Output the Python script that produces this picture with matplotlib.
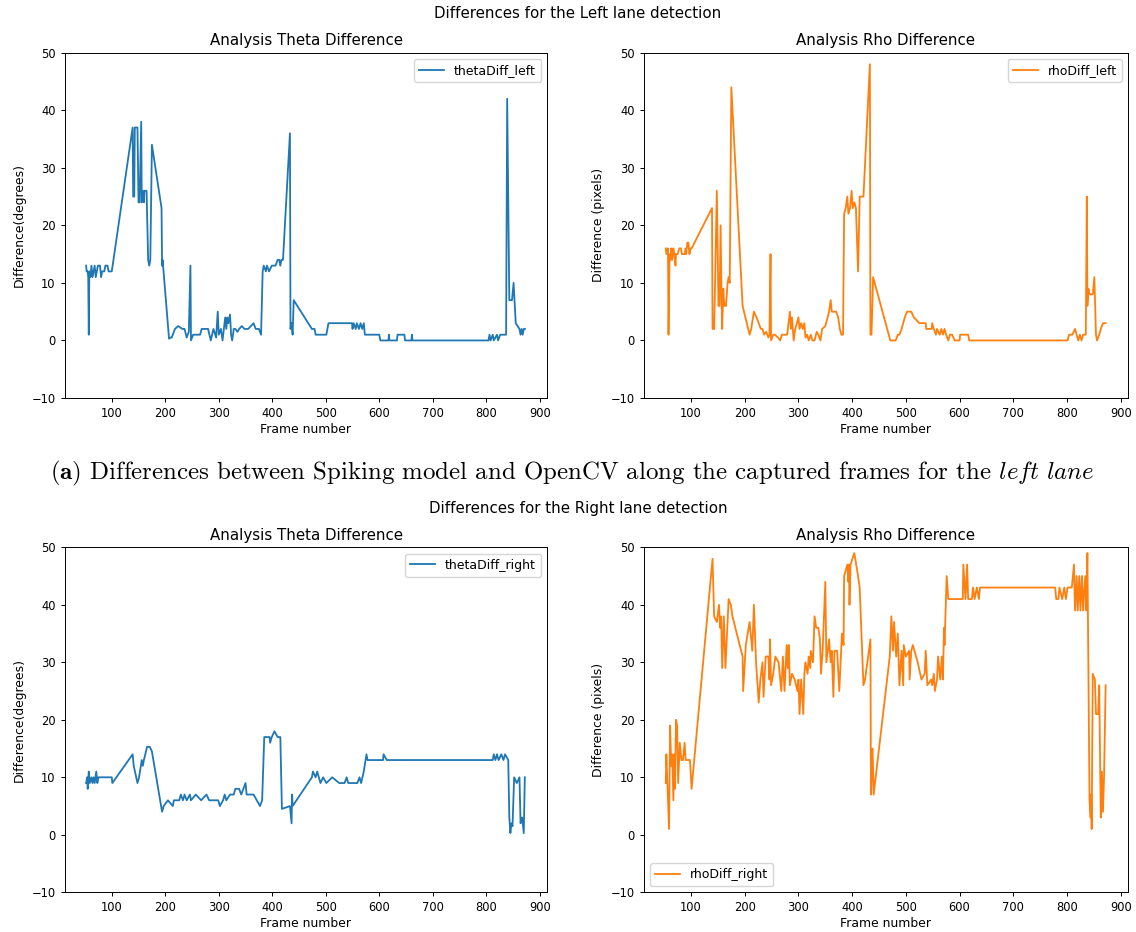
import numpy as np
import matplotlib
matplotlib.use("Agg")
import matplotlib.pyplot as plt

# (frame, difference) pairs
theta_left = [(52, 13), (53, 12), (55, 12), (56, 11), (57, 1), (58, 12), (60, 11), (62, 13), (64, 11), (66, 12),
              (68, 13), (70, 11), (72, 12), (74, 13), (78, 13), (80, 11), (82, 12), (86, 12), (88, 13), (92, 13),
              (94, 12), (98, 12), (100, 12), (139, 37), (140, 25), (142, 25), (143, 37), (148, 37), (150, 24), (152, 24),
              (155, 38), (156, 24), (158, 26), (160, 24), (161, 26), (165, 26), (168, 14), (170, 13), (172, 14), (175, 34),
              (193, 23), (194, 13), (195, 14), (207, 0.3), (210, 0.5), (212, 0.5), (218, 2), (224, 2.5), (232, 2), (236, 2),
              (240, 0.5), (244, 1.5), (247, 13), (248, 0), (252, 1), (256, 1), (265, 1), (268, 2), (275, 2), (280, 2),
              (285, 0), (290, 2), (295, 0.5), (298, 5), (300, 1), (304, 2), (307, 0), (312, 4), (314, 2), (316, 4),
              (318, 3), (321, 4.5), (323, 1), (325, 0), (328, 2), (331, 2), (335, 1.5), (338, 2), (343, 2.5), (348, 2),
              (355, 2), (365, 3), (369, 2), (375, 2), (379, 1), (382, 12), (384, 13), (388, 12), (390, 13), (394, 12),
              (399, 13), (406, 13), (410, 14), (413, 14), (415, 13), (417, 14), (420, 14), (433, 36), (434, 2), (436, 3),
              (438, 1), (440, 7), (474, 2), (479, 2), (481, 1), (501, 1), (503, 2), (505, 3), (508, 3), (549, 3),
              (550, 2), (552, 3), (556, 2), (558, 3), (562, 2), (565, 3), (568, 2), (571, 3), (573, 1), (600, 1),
              (602, 0), (617, 0), (618, 1), (619, 0), (633, 0), (634, 1), (647, 1), (648, 0), (660, 0), (661, 1),
              (662, 0), (804, 0), (806, 1), (808, 0), (812, 1), (814, 0), (820, 1), (822, 0), (826, 1), (837, 1),
              (839, 42), (843, 7), (848, 7), (851, 10), (855, 3), (862, 2), (864, 1), (866, 2), (868, 1), (870, 2),
              (872, 2)]

rho_left = [(53, 16), (54, 15), (57, 16), (58, 1), (60, 15), (62, 14), (63, 16), (65, 14), (67, 16), (69, 15),
            (71, 13), (72, 15), (75, 15), (78, 16), (81, 16), (83, 15), (88, 15), (90, 16), (91, 15), (93, 17),
            (95, 17), (97, 15), (99, 16), (101, 16), (139, 23), (140, 2), (143, 2), (148, 26), (151, 6), (153, 6),
            (155, 20), (157, 6), (158, 2), (160, 9), (162, 6), (165, 6), (168, 10), (170, 11), (172, 10), (175, 44),
            (196, 6), (209, 1), (212, 2), (217, 5), (222, 4), (226, 3), (230, 2), (233, 2), (236, 1), (240, 1.5),
            (244, 0.5), (246, 1), (248, 15), (249, 0), (253, 1), (256, 1), (262, 0.5), (266, 0), (269, 1), (279, 1),
            (284, 5), (286, 2), (288, 4), (291, 0), (294, 2), (297, 3), (300, 4), (302, 2), (305, 3), (308, 2),
            (311, 3), (313, 0.5), (316, 1), (319, 0), (323, 1), (326, 0), (330, 0), (334, 1.5), (337, 1), (341, 0),
            (344, 2), (350, 2.5), (357, 5), (360, 7), (362, 5), (364, 5), (370, 5), (374, 4), (377, 2), (380, 1),
            (383, 1), (385, 22), (388, 23), (391, 25), (393, 22), (396, 23), (399, 26), (401, 23), (404, 24), (407, 23),
            (411, 12), (414, 25), (421, 25), (433, 48), (434, 1), (436, 1), (439, 11), (471, 0), (481, 0), (485, 1),
            (488, 1), (492, 2), (495, 3), (498, 4), (502, 5), (510, 5), (515, 4), (525, 3), (537, 3), (538, 2),
            (548, 2), (549, 3), (552, 2), (556, 1), (558, 2), (563, 1), (566, 2), (569, 1), (572, 2), (575, 1),
            (579, 0), (582, 1), (586, 1), (591, 0), (600, 0), (601, 1), (616, 1), (618, 0), (801, 0), (804, 1),
            (810, 1), (815, 2), (818, 1), (821, 0), (824, 1), (827, 0), (830, 1), (835, 1), (837, 25), (838, 6),
            (840, 9), (842, 8), (848, 8), (851, 11), (854, 1), (856, 0), (860, 1), (863, 2), (867, 3), (872, 3)]

theta_right = [(52, 9), (54, 10), (55, 8), (57, 11), (59, 9), (62, 10), (64, 9), (66, 10), (68, 9), (71, 11),
               (73, 9), (75, 10), (77, 10), (100, 10), (101, 9), (139, 14), (141, 12), (148, 9), (151, 10), (156, 13),
               (158, 12), (160, 13), (166, 15.3), (171, 15.3), (175, 14.5), (194, 4), (197, 5), (205, 6), (214, 5), (216, 6),
               (226, 6), (229, 7), (233, 6), (236, 7), (240, 6), (246, 7), (248, 6), (257, 7), (267, 6), (277, 7),
               (282, 6), (299, 6), (302, 5), (308, 6), (311, 7), (314, 6), (321, 7), (328, 7), (331, 8), (338, 8),
               (342, 7), (350, 9), (352, 7), (365, 7), (377, 5), (381, 6), (385, 17), (395, 17), (396, 16), (399, 17),
               (404, 18), (410, 17), (415, 17), (418, 4.5), (433, 5), (436, 2), (437, 7), (438, 5), (474, 10), (476, 11),
               (481, 10), (484, 11), (490, 9), (495, 10), (501, 9), (512, 10), (525, 9), (535, 9), (539, 10), (542, 9),
               (559, 9), (563, 10), (566, 9), (571, 11), (576, 14), (578, 13), (607, 13), (608, 14), (614, 13), (812, 13),
               (814, 14), (817, 13), (820, 14), (823, 13), (828, 14), (832, 13), (835, 14), (841, 13), (843, 3), (845, 0.3),
               (847, 2), (849, 1.5), (852, 10), (857, 9), (862, 10), (864, 2), (867, 3), (870, 0.3), (872, 10)]

rho_right = [(53, 9), (54, 14), (56, 9), (59, 1), (61, 19), (63, 12), (65, 14), (67, 6), (69, 14), (70, 8),
             (72, 20), (74, 19), (76, 9), (79, 16), (82, 13), (85, 13), (88, 16), (90, 13), (98, 13), (101, 8),
             (140, 48), (143, 38), (148, 37), (152, 40), (154, 36), (156, 38), (158, 29), (161, 38), (164, 29), (170, 41),
             (174, 40), (177, 38), (196, 31), (197, 25), (202, 33), (209, 37), (214, 32), (217, 40), (221, 30), (226, 23),
             (229, 27), (233, 30), (235, 24), (239, 31), (244, 31), (246, 27), (247, 34), (249, 26), (253, 28), (257, 31),
             (263, 30), (268, 25), (271, 31), (274, 25), (278, 33), (280, 29), (282, 33), (284, 26), (288, 28), (293, 27),
             (298, 25), (300, 27), (302, 21), (305, 27), (309, 21), (311, 28), (313, 30), (317, 28), (319, 31), (322, 29),
             (323, 32), (327, 30), (330, 38), (333, 36), (337, 36), (340, 34), (342, 28), (345, 32), (350, 44), (352, 30),
             (357, 34), (360, 30), (362, 32), (365, 24), (367, 32), (372, 32), (376, 25), (381, 35), (384, 33), (385, 45),
             (391, 47), (393, 44), (394, 47), (395, 40), (397, 47), (404, 49), (411, 45), (414, 43), (421, 26), (424, 27),
             (434, 34), (435, 7), (438, 15), (440, 7), (470, 31), (473, 38), (476, 32), (478, 37), (482, 31), (485, 35),
             (488, 26), (492, 32), (495, 26), (496, 33), (500, 31), (506, 32), (507, 27), (510, 32), (513, 33), (522, 30),
             (529, 27), (535, 28), (537, 32), (540, 26), (547, 27), (549, 26), (552, 28), (554, 25), (558, 27), (560, 31),
             (564, 27), (567, 31), (569, 27), (571, 36), (572, 33), (576, 45), (579, 41), (606, 41), (607, 47), (611, 41),
             (614, 47), (616, 41), (623, 41), (625, 43), (628, 41), (632, 43), (636, 41), (638, 43), (778, 43), (780, 41),
             (784, 41), (786, 43), (791, 41), (795, 43), (798, 41), (801, 43), (809, 43), (813, 47), (815, 39), (818, 45),
             (820, 39), (823, 45), (825, 39), (828, 45), (830, 39), (834, 45), (836, 39), (838, 49), (842, 6), (844, 3),
             (845, 7), (846, 1), (848, 28), (852, 27), (854, 21), (858, 21), (860, 26), (863, 3), (865, 11), (867, 4),
             (869, 10), (872, 26)]

plt.rcParams['font.size'] = 8.9
plt.rcParams['xtick.labelsize'] = 8.3
plt.rcParams['ytick.labelsize'] = 8.3
plt.rcParams['legend.fontsize'] = 9
plt.rcParams['axes.titlesize'] = 10.8
plt.rcParams['axes.linewidth'] = 0.7
plt.rcParams['xtick.major.width'] = 0.7
plt.rcParams['ytick.major.width'] = 0.7
plt.rcParams['xtick.major.size'] = 3
plt.rcParams['ytick.major.size'] = 3
plt.rcParams['mathtext.fontset'] = 'cm'

fig = plt.figure(figsize=(11.36, 9.32), dpi=100)
W, H = 1136, 932

def make_ax(left, top, right, bottom):
    return fig.add_axes([left / W, 1 - bottom / H, (right - left) / W, (bottom - top) / H])

panels = [
    (make_ax(64.7, 52.7, 547.3, 398), theta_left, 'thetaDiff_left', 'tab:blue',
     'Analysis Theta Difference', 'Difference(degrees)', 'upper right'),
    (make_ax(643.8, 52.7, 1128.2, 398), rho_left, 'rhoDiff_left', 'tab:orange',
     'Analysis Rho Difference', 'Difference (pixels)', 'upper right'),
    (make_ax(64.7, 547.3, 547.3, 892.3), theta_right, 'thetaDiff_right', 'tab:blue',
     'Analysis Theta Difference', 'Difference(degrees)', 'upper right'),
    (make_ax(643.8, 547.3, 1128.2, 892.3), rho_right, 'rhoDiff_right', 'tab:orange',
     'Analysis Rho Difference', 'Difference (pixels)', 'lower left'),
]

for ax, series, label, color, title, ylabel, loc in panels:
    frames, diffs = zip(*series)
    ax.plot(frames, diffs, color=color, lw=1.3, label=label)
    ax.set_xlim(12, 914)
    ax.set_ylim(-10, 50)
    ax.set_yticks(np.arange(-10, 51, 10))
    ax.set_xticks(np.arange(100, 901, 100))
    ax.set_title(title, pad=5.5)
    ax.set_xlabel('Frame number', labelpad=2)
    ax.set_ylabel(ylabel)
    ax.legend(loc=loc)

fig.text(578 / W, 1 - 14 / H, 'Differences for the Left lane detection',
         ha='center', va='center', fontsize=10.8)
fig.text(578 / W, 1 - 508 / H, 'Differences for the Right lane detection',
         ha='center', va='center', fontsize=10.8)
fig.text(572 / W, 1 - 473 / H,
         r'$\mathbf{(a)}$ Differences between Spiking model and OpenCV along the captured frames for the $\mathit{left\ lane}$',
         ha='center', va='center', fontsize=17.9, family='cmr10')

fig.savefig('out.png', dpi=100)
